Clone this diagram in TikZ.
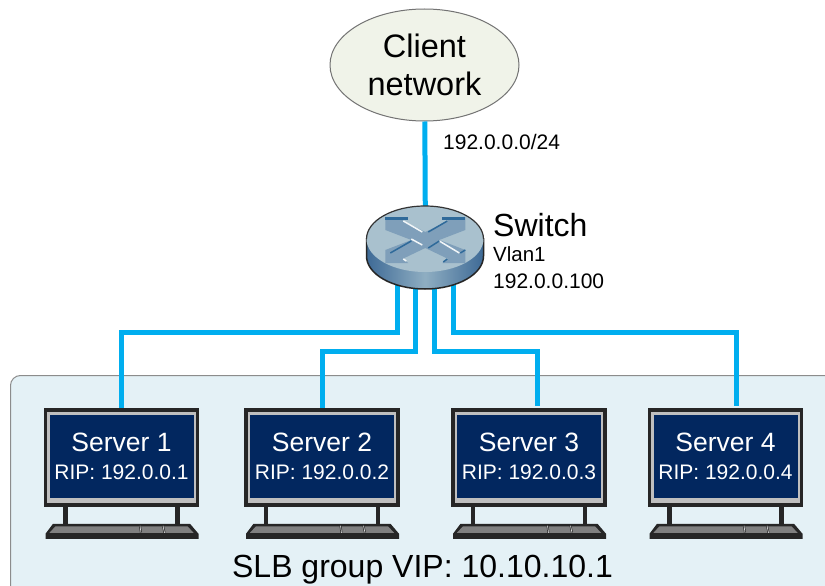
\documentclass[tikz,border=0pt]{standalone}
\usepackage{fontspec}
\usetikzlibrary{shapes.geometric}
\setmainfont{Liberation Sans}
\definecolor{linkblue}{HTML}{00AEEF}
\definecolor{groupfill}{HTML}{E4F1F6}
\definecolor{cloudfill}{HTML}{F0F3E9}
\definecolor{screenblue}{HTML}{02275F}
\definecolor{discside}{HTML}{3E6A96}
\definecolor{disclight}{HTML}{8FAEC2}
\definecolor{disctop}{HTML}{A9C1CE}
\definecolor{discarrow}{HTML}{7F9FBA}
\definecolor{discline}{HTML}{2F6A9A}
\tikzset{
  link/.style={draw=linkblue,line width=5pt},
  monitor/.style={draw=black!85,line width=3.5pt,fill=black!25,minimum width=152pt,minimum height=95pt,inner sep=0pt},
  screen/.style={fill=screenblue,text=white,minimum width=144pt,minimum height=83pt,inner sep=0pt,align=center,font=\fontsize{21}{28}\selectfont},
  label/.style={anchor=west,inner sep=0pt,align=left},
  keyboard/.pic={
    \draw[draw=black!85,line width=4.5pt] (-56,0) -- (-56,18) (56,0) -- (56,18);
    \fill[black!85] (-68.5,17) -- (68.5,17) -- (77,27) -- (77,32) -- (-76,32) -- (-76,27) -- cycle;
    \fill[black!50] (-66,19.5) -- (66,19.5) -- (72,26) -- (-72,26) -- cycle;
    \draw[black!85,line width=2pt] (18.5,19) -- (19.5,26) (41.5,19) -- (43,26);
    \draw[white!85!black,line width=.7pt] (18.5,19) -- (19.5,26) (41.5,19) -- (43,26);
  }
}
\begin{document}
\begin{tikzpicture}[x=1pt,y=-1pt]
  \path[use as bounding box,clip] (0,0) rectangle (825,586);
  \fill[white] (0,0) rectangle (825,586);
  \draw[fill=groupfill,draw=black!45,line width=1pt,rounded corners=10pt] (10.5,375.5) rectangle (840,600);
  \node[draw=black!55,line width=1pt,fill=cloudfill,ellipse,minimum width=189pt,minimum height=112pt,inner sep=0pt,align=center,font=\fontsize{32.5}{38}\selectfont] (client) at (424.5,65) {Client\\network};
  \node[ellipse,minimum width=117pt,minimum height=83pt,inner sep=0pt] (switch) at (425.5,247.5) {};
  \node[monitor] (server1) at (121.5,457.5) {};
  \node[monitor] (server2) at (322,457.5) {};
  \node[monitor] (server3) at (529,457.5) {};
  \node[monitor] (server4) at (725.5,457.5) {};
  \node[screen] (screen1) at (121.5,456) {{\fontsize{26.5}{31}\selectfont Server 1}\\RIP: 192.0.0.1};
  \node[screen] (screen2) at (322,456) {{\fontsize{26.5}{31}\selectfont Server 2}\\RIP: 192.0.0.2};
  \node[screen] (screen3) at (529,456) {{\fontsize{26.5}{31}\selectfont Server 3}\\RIP: 192.0.0.3};
  \node[screen] (screen4) at (725.5,456) {{\fontsize{26.5}{31}\selectfont Server 4}\\RIP: 192.0.0.4};
  \pic at (server1.south) {keyboard};
  \pic at (server2.south) {keyboard};
  \pic at (server3.south) {keyboard};
  \pic at (server4.south) {keyboard};
  \coordinate (porta) at (397,280);
  \coordinate (portb) at (415,283);
  \coordinate (portc) at (434,283);
  \coordinate (portd) at (453,280);
  \coordinate (drop3) at (537,406);
  \coordinate (drop4) at (736,406);
  \draw[link] (client) -- (switch);
  \draw[link] (porta) -- ++(0,52) -| (server1.north);
  \draw[link] (portb) -- ++(0,68) -| (server2.north);
  \draw[link] (portc) -- ++(0,68) -| (drop3);
  \draw[link] (portd) -- ++(0,52) -| (drop4);
  \shade[left color=discside,right color=discside,middle color=disclight,draw=black!85,line width=1.5pt]
    (366.5,239) -- (366.5,256) arc[start angle=180,end angle=360,x radius=58.5pt,y radius=33pt] -- (483.5,239) -- cycle;
  \fill[disctop] (425,239) ellipse[x radius=58.5pt,y radius=33pt];
  \draw[black!80,line width=1.2pt] (366.5,239) arc[start angle=180,end angle=0,x radius=58.5pt,y radius=33pt];
  \begin{scope}[shift={(425.3,240)}]
    \foreach \sx/\sy in {1/1,-1/1,1/-1,-1/-1}{
      \fill[discarrow,xscale=\sx,yscale=\sy] (-40,-23) -- (-17,-23) -- (-23,-19) -- (0,-8) -- (14,0) -- (0,8) -- (-14,0) -- (-40,-10) -- cycle;
    }
    \fill[discline] (-40,-23) rectangle (-17,-20.5);
    \fill[discline] (40,-23) rectangle (17,-20.5);
    \draw[white!85!disctop,line width=1.5pt] (-22,-19) -- (-3,-8);
    \draw[white!85!disctop,line width=1.5pt] (14,1) -- (34,13);
    \draw[white!85!disctop,line width=1.5pt] (-14,-1) -- (-3,5);
    \draw[white!85!disctop,line width=1.5pt] (-22,19) -- (-19,21);
    \draw[discline,line width=1.5pt] (3,-8) -- (22,-19);
    \draw[discline,line width=1.5pt] (-35,13) -- (-14,1);
    \draw[discline,line width=1.5pt] (3,8) -- (14,1);
    \draw[discline,line width=1.5pt] (35,13) -- (40,10);
    \draw[discline,line width=1.5pt] (18,22) -- (22,19);
  \end{scope}
  \node[label,font=\fontsize{21}{24}\selectfont] (subnet) at (443,142) {192.0.0.0/24};
  \node[label,font=\fontsize{32}{36}\selectfont] (switchname) at (493,225) {Switch};
  \node[label,font=\fontsize{20.5}{24}\selectfont] (vlan) at (493,254) {Vlan1};
  \node[label,font=\fontsize{21}{24}\selectfont] (vlanip) at (493,281) {192.0.0.100};
  \node[inner sep=0pt,font=\fontsize{32}{36}\selectfont] (group) at (422.5,570) {SLB group VIP: 10.10.10.1};
\end{tikzpicture}
\end{document}
